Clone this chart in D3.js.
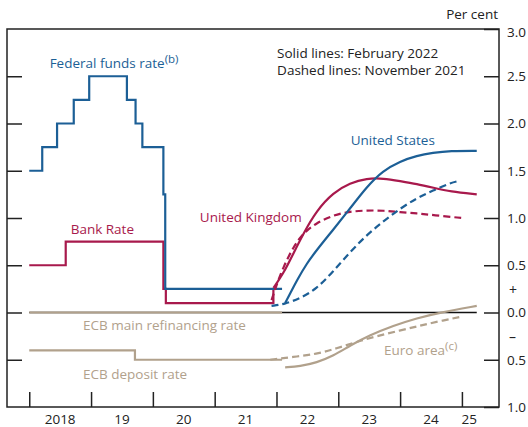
<!DOCTYPE html>
<html>
<head>
<meta charset="utf-8">
<script src="https://cdn.jsdelivr.net/npm/d3@7"></script>
<style>
  body { margin: 0; background: #fff; }
  svg { font-family: "Open Sans", sans-serif; }
</style>
</head>
<body>
<svg id="chart"></svg>
<script>
// Policy rates and market-implied paths, per cent (time as decimal years)
const fedFunds = [
  [2018.0, 1.5], [2018.21, 1.75], [2018.45, 2.0], [2018.72, 2.25], [2018.97, 2.5],
  [2019.58, 2.25], [2019.72, 2.0], [2019.83, 1.75], [2020.17, 1.25], [2020.2, 0.25],
  [2022.09, 0.25]
];
const bankRate = [
  [2018.0, 0.5], [2018.59, 0.75], [2020.17, 0.25], [2020.21, 0.1], [2021.95, 0.25]
];
const ecbMain = [[2018.0, 0.0], [2022.09, 0.0]];
const ecbDeposit = [[2018.0, -0.4], [2019.71, -0.5], [2022.09, -0.5]];

const usFeb = [
  [2022.14, 0.10], [2022.22, 0.20], [2022.33, 0.34], [2022.49, 0.52], [2022.65, 0.66],
  [2022.91, 0.87], [2023.19, 1.10], [2023.46, 1.33], [2023.72, 1.50], [2024.0, 1.60],
  [2024.27, 1.66], [2024.53, 1.69], [2024.81, 1.71], [2025.24, 1.71]
];
const usNov = [
  [2021.92, 0.07], [2022.14, 0.09], [2022.38, 0.15], [2022.65, 0.25], [2022.91, 0.43],
  [2023.19, 0.64], [2023.46, 0.82], [2023.72, 0.96], [2024.0, 1.10], [2024.27, 1.21],
  [2024.53, 1.29], [2024.81, 1.37], [2024.94, 1.39]
];
const ukFeb = [
  [2021.95, 0.26], [2022.11, 0.41], [2022.27, 0.62], [2022.43, 0.83], [2022.65, 1.08],
  [2022.92, 1.27], [2023.19, 1.37], [2023.46, 1.42], [2023.73, 1.42], [2024.0, 1.39],
  [2024.27, 1.36], [2024.54, 1.32], [2024.81, 1.28], [2025.24, 1.25]
];
const ukNov = [
  [2021.92, 0.13], [2022.0, 0.29], [2022.11, 0.48], [2022.27, 0.69], [2022.43, 0.84],
  [2022.65, 0.95], [2022.92, 1.03], [2023.19, 1.07], [2023.46, 1.08], [2023.73, 1.08],
  [2024.0, 1.06], [2024.27, 1.05], [2024.54, 1.03], [2025.0, 1.0]
];
const euroFeb = [
  [2022.14, -0.58], [2022.38, -0.57], [2022.65, -0.53], [2022.92, -0.46], [2023.19, -0.35],
  [2023.51, -0.24], [2023.89, -0.14], [2024.27, -0.06], [2024.65, 0.0], [2025.24, 0.07]
];
const euroNov = [
  [2021.9, -0.50], [2022.27, -0.47], [2022.65, -0.44], [2022.97, -0.38], [2023.3, -0.31],
  [2023.62, -0.25], [2024.0, -0.19], [2024.32, -0.14], [2024.65, -0.09], [2025.02, -0.04]
];

const yearTicks = [2018, 2019, 2020, 2021, 2022, 2023, 2024, 2025];
const yearLabels = ['2018', '19', '20', '21', '22', '23', '24', '25'];
const yTicks = [-1, -0.5, 0, 0.5, 1, 1.5, 2, 2.5, 3];

const blue = '#1c5f96';
const red = '#a8194c';
const tan = '#b1a18c';
const fs = 13.5;

const width = 528, height = 427;
const margin = { top: 29, right: 29, bottom: 20, left: 7 };
const w = width - margin.left - margin.right;
const h = height - margin.top - margin.bottom;

const svg = d3.select('#chart').attr('width', width).attr('height', height);
const g = svg.append('g').attr('transform', `translate(${margin.left},${margin.top})`);

const x = d3.scaleLinear().domain([2017.64, 2025.6]).range([0, w]);
const y = d3.scaleLinear().domain([-1, 3]).range([h, 0]);

// Axes (ticks point inwards)
const fmt = d => Math.abs(d).toFixed(1);
const yRight = d3.axisRight(y).tickValues(yTicks).tickSizeInner(-15).tickSizeOuter(0)
  .tickPadding(8).tickFormat(fmt);
const yLeft = d3.axisLeft(y).tickValues(yTicks.slice(1, -1)).tickSizeInner(-15)
  .tickSizeOuter(0).tickFormat('');
const xBottom = d3.axisBottom(x).tickValues(yearTicks).tickSizeInner(-15)
  .tickSizeOuter(0).tickFormat('');

g.append('g').attr('transform', `translate(${w},0)`).call(yRight)
  .call(a => a.select('.domain').remove())
  .call(a => a.selectAll('text').attr('font-size', fs).attr('fill', '#222')
    .attr('font-family', '"Open Sans", sans-serif')
    .attr('dy', d => d === 3 ? '0.55em' : '0.32em'));
g.append('g').call(yLeft).call(a => a.select('.domain').remove());
g.append('g').attr('transform', `translate(0,${h})`).call(xBottom)
  .call(a => a.select('.domain').remove());
g.selectAll('.tick line').attr('stroke', '#222').attr('stroke-width', 1.5);

// Year labels centred in each year
g.append('g').selectAll('text').data(yearTicks).enter().append('text')
  .attr('x', d => d === 2025 ? x(2025.12) : x(d + 0.5))
  .attr('y', h + 17)
  .attr('text-anchor', 'middle')
  .attr('font-size', fs).attr('fill', '#222')
  .text((d, i) => yearLabels[i]);

// Signs on the right-hand axis
g.append('text').attr('x', w + 10).attr('y', y(0.24)).attr('dy', '0.35em')
  .attr('font-size', 14).attr('fill', '#222').text('+');
g.append('text').attr('x', w + 10).attr('y', y(-0.26)).attr('dy', '0.35em')
  .attr('font-size', 14).attr('fill', '#222').text('–');
svg.append('text').attr('x', margin.left + w - 1).attr('y', 19)
  .attr('text-anchor', 'end').attr('font-size', fs).attr('fill', '#222').text('Per cent');

// Zero line
g.append('line')
  .attr('x1', x(2018)).attr('x2', x(2025.24))
  .attr('y1', y(0)).attr('y2', y(0))
  .attr('stroke', '#111').attr('stroke-width', 1.3);

const step = d3.line().x(d => x(d[0])).y(d => y(d[1])).curve(d3.curveStepAfter);
const smooth = d3.line().x(d => x(d[0])).y(d => y(d[1])).curve(d3.curveBasis);

const series = [
  { data: ecbMain, gen: step, color: tan, dash: null },
  { data: ecbDeposit, gen: step, color: tan, dash: null },
  { data: euroNov, gen: smooth, color: tan, dash: '7,4' },
  { data: euroFeb, gen: smooth, color: tan, dash: null },
  { data: bankRate, gen: step, color: red, dash: null },
  { data: fedFunds, gen: step, color: blue, dash: null },
  { data: ukNov, gen: smooth, color: red, dash: '7,4' },
  { data: usNov, gen: smooth, color: blue, dash: '7,4' },
  { data: ukFeb, gen: smooth, color: red, dash: null },
  { data: usFeb, gen: smooth, color: blue, dash: null }
];

g.selectAll('path.series').data(series).enter().append('path')
  .attr('class', 'series')
  .attr('d', d => d.gen(d.data))
  .attr('fill', 'none')
  .attr('stroke', d => d.color)
  .attr('stroke-width', 2.2)
  .attr('stroke-dasharray', d => d.dash);

// Frame
g.append('rect').attr('width', w).attr('height', h)
  .attr('fill', 'none').attr('stroke', '#222').attr('stroke-width', 1.5);

// Labels
const labels = [
  { t: 2018.33, v: 2.59, text: 'Federal funds rate', sup: '(b)', color: blue },
  { t: 2018.67, v: 0.83, text: 'Bank Rate', color: red },
  { t: 2020.76, v: 0.96, text: 'United Kingdom', color: red },
  { t: 2023.2, v: 1.77, text: 'United States', color: blue },
  { t: 2018.87, v: -0.18, text: 'ECB main refinancing rate', color: tan },
  { t: 2018.87, v: -0.70, text: 'ECB deposit rate', color: tan },
  { t: 2023.74, v: -0.45, text: 'Euro area', sup: '(c)', color: tan },
  { t: 2022.01, v: 2.695, text: 'Solid lines: February 2022', color: '#222' },
  { t: 2022.01, v: 2.515, text: 'Dashed lines: November 2021', color: '#222' }
];

labels.forEach(l => {
  const t = g.append('text')
    .attr('x', x(l.t)).attr('y', y(l.v))
    .attr('font-size', fs).attr('fill', l.color)
    .text(l.text);
  if (l.sup) {
    t.append('tspan').attr('dy', -5).attr('font-size', 11.5).text(l.sup);
  }
});
</script>
</body>
</html>
